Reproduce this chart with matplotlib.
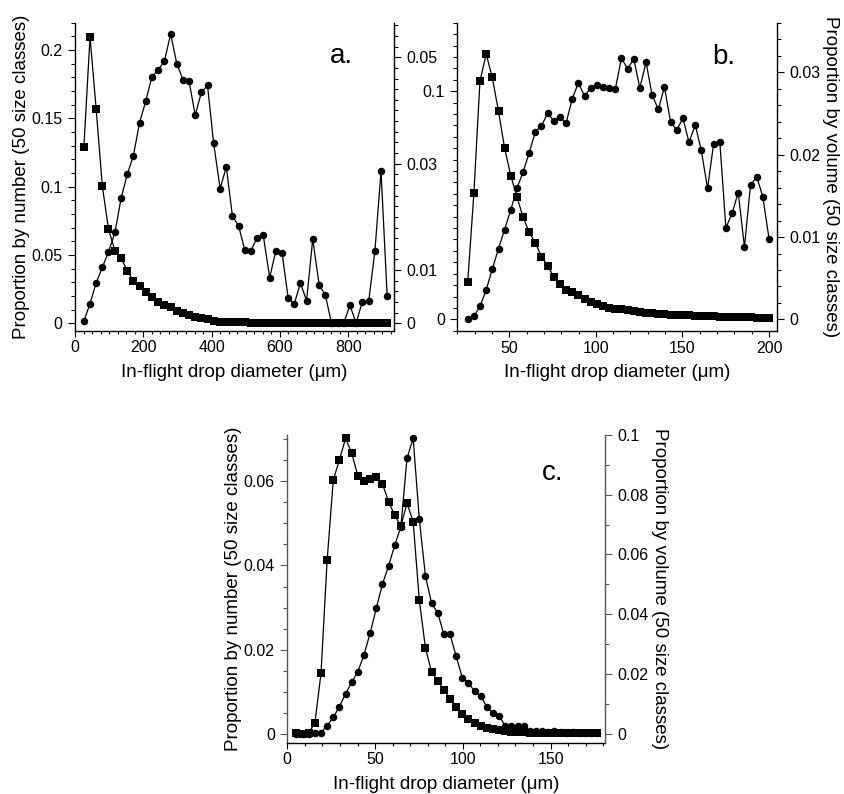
import matplotlib
matplotlib.use("Agg")
import matplotlib.pyplot as plt
from matplotlib.ticker import MultipleLocator, FixedLocator, FuncFormatter

plt.rcParams['font.family'] = ['Liberation Sans', 'DejaVu Sans']

# ---- panel a : drop diameter classes (um) ----
diam_a = [26, 44, 62, 80, 98, 117, 135, 153, 171, 189, 207, 225, 243, 262, 280,
          298, 316, 334, 352, 370, 388, 406, 425, 443, 461, 479, 497, 515, 533, 551,
          570, 588, 606, 624, 642, 660, 678, 696, 715, 733, 751, 769, 787, 805, 823,
          841, 860, 878, 896, 914]
number_a = [0.129, 0.2096, 0.1567, 0.1005, 0.069, 0.0531, 0.0476, 0.0385, 0.031, 0.0273,
            0.0227, 0.0195, 0.0158, 0.0134, 0.0117, 0.0092, 0.0073, 0.0061, 0.0044, 0.0037,
            0.0029, 0.0019, 0.0012, 0.0010, 0.0009, 0.0008, 0.0007, 0.0006, 0.0006, 0.0005,
            0.0005, 0.0004, 0.0004, 0.0003, 0.0003, 0.0003, 0.0003, 0.0002, 0.0002, 0.0002,
            0.0002, 0.0002, 0.0002, 0.0001, 0.0001, 0.0001, 0.0001, 0.0001, 0.0001, 0.0001]
volume_a = [0.0004, 0.0037, 0.0076, 0.0105, 0.0134, 0.0171, 0.0235, 0.0280, 0.0315, 0.0377,
            0.0417, 0.0463, 0.0476, 0.0493, 0.0544, 0.0488, 0.0458, 0.0455, 0.0391, 0.0434,
            0.0447, 0.0338, 0.0253, 0.0294, 0.0201, 0.0183, 0.0138, 0.0136, 0.0161, 0.0166,
            0.0086, 0.0136, 0.0133, 0.0048, 0.0036, 0.0076, 0.0042, 0.0158, 0.0072, 0.0053,
            0.0, 0.0, 0.0, 0.0034, 0.0, 0.0040, 0.0042, 0.0135, 0.0286, 0.0051]

# ---- panel b ----
diam_b = [26, 29.6, 33.1, 36.7, 40.2, 43.8, 47.3, 50.9, 54.4, 58, 61.5, 65.1, 68.6, 72.2,
          75.7, 79.3, 82.8, 86.4, 89.9, 93.5, 97, 100.6, 104.1, 107.7, 111.2, 114.8, 118.3,
          121.9, 125.4, 129, 132.5, 136.1, 139.6, 143.2, 146.7, 150.3, 153.8, 157.4, 160.9,
          164.5, 168, 171.6, 175.1, 178.7, 182.2, 185.8, 189.3, 192.9, 196.4, 200]
number_b = [0.0162, 0.0555, 0.1046, 0.1162, 0.1060, 0.0911, 0.0751, 0.0629, 0.0538, 0.0447,
            0.0382, 0.0335, 0.0275, 0.0235, 0.0187, 0.0155, 0.0129, 0.0118, 0.0107, 0.0089,
            0.0077, 0.0067, 0.0058, 0.0051, 0.0045, 0.0044, 0.0039, 0.0035, 0.0031, 0.0028,
            0.0026, 0.0024, 0.0022, 0.0021, 0.0019, 0.0018, 0.0017, 0.0016, 0.0015, 0.0014,
            0.0013, 0.0012, 0.0011, 0.0011, 0.0010, 0.0009, 0.0009, 0.0008, 0.0008, 0.0007]
volume_b = [0.0001, 0.0004, 0.0016, 0.0036, 0.0061, 0.0086, 0.0109, 0.0133, 0.0159, 0.0179,
            0.0202, 0.0228, 0.0235, 0.0250, 0.0241, 0.0245, 0.0238, 0.0268, 0.0287, 0.0271,
            0.0281, 0.0284, 0.0282, 0.0281, 0.0279, 0.0317, 0.0304, 0.0316, 0.0281, 0.0312,
            0.0272, 0.0255, 0.0282, 0.0239, 0.0230, 0.0244, 0.0215, 0.0236, 0.0205, 0.0159,
            0.0213, 0.0215, 0.0111, 0.0129, 0.0154, 0.0088, 0.0163, 0.0173, 0.0149, 0.0098]

# ---- panel c ----
diam_c = [5.2, 8.7, 12.2, 15.7, 19.2, 22.7, 26.2, 29.7, 33.2, 36.7, 40.2, 43.7, 47.2, 50.7,
          54.2, 57.7, 61.2, 64.7, 68.2, 71.7, 75.2, 78.7, 82.2, 85.7, 89.2, 92.7, 96.2, 99.7,
          103.2, 106.7, 110.2, 113.7, 117.2, 120.7, 124.2, 127.7, 131.2, 134.7, 138.2, 141.7,
          145.2, 148.7, 152.2, 155.7, 159.2, 162.7, 166.2, 169.7, 173.2, 176.7]
number_c = [0.0002, 0.0, 0.0003, 0.0025, 0.0144, 0.0413, 0.0603, 0.0651, 0.0702, 0.0667,
            0.0613, 0.0601, 0.0605, 0.0610, 0.0594, 0.0552, 0.0519, 0.0494, 0.0548, 0.0504,
            0.0318, 0.0204, 0.0147, 0.0125, 0.0105, 0.0082, 0.0063, 0.0047, 0.0035, 0.0025,
            0.0019, 0.0014, 0.0011, 0.0009, 0.0007, 0.0005, 0.0004, 0.0004, 0.0003, 0.0003,
            0.0003, 0.0002, 0.0002, 0.0002, 0.0002, 0.0001, 0.0001, 0.0001, 0.0001, 0.0001]
volume_c = [0.0, 0.0, 0.0, 0.0002, 0.0004, 0.0027, 0.0055, 0.0091, 0.0134, 0.0172,
            0.0208, 0.0264, 0.0337, 0.0420, 0.0501, 0.0562, 0.0631, 0.0693, 0.0922, 0.0989,
            0.0719, 0.0528, 0.0437, 0.0404, 0.0333, 0.0333, 0.0259, 0.0188, 0.0170, 0.0142,
            0.0127, 0.0089, 0.0069, 0.0060, 0.0025, 0.0027, 0.0025, 0.0027, 0.0010, 0.0008,
            0.0010, 0.0006, 0.0008, 0.0005, 0.0004, 0.0005, 0.0003, 0.0003, 0.0002, 0.0002]

xlabel = "In-flight drop diameter (\u03bcm)"
ylabel_num = "Proportion by number (50 size classes)"
ylabel_vol = "Proportion by volume (50 size classes)"

W, H = 844, 794
fig = plt.figure(figsize=(W / 100, H / 100), dpi=100)


def px_axes(left, top, right, bottom):
    return fig.add_axes([left / W, 1 - bottom / H, (right - left) / W, (bottom - top) / H])


fmt = FuncFormatter(lambda v, p: "%g" % round(v, 4))


def style(ax, side, spine_color='black'):
    for s in ['top', 'left', 'right', 'bottom']:
        ax.spines[s].set_visible(False)
    ax.spines[side].set_visible(True)
    ax.spines[side].set_color(spine_color)
    ax.spines[side].set_linewidth(1.0)
    ax.tick_params(axis='y', which='major', direction='out', length=5, width=0.8,
                   labelsize=11.5, color=spine_color, pad=4)
    ax.tick_params(axis='y', which='minor', direction='out', length=3, width=0.8,
                   color=spine_color)
    ax.yaxis.set_major_formatter(fmt)


def base(ax, xlim, xmajor, xminor):
    style(ax, 'left')
    ax.spines['bottom'].set_visible(True)
    ax.spines['bottom'].set_linewidth(1.0)
    ax.set_xlim(*xlim)
    ax.xaxis.set_major_locator(FixedLocator(xmajor))
    ax.xaxis.set_minor_locator(MultipleLocator(xminor))
    ax.tick_params(axis='x', which='major', direction='out', length=4, width=0.8,
                   labelsize=11.5, pad=3)
    ax.tick_params(axis='x', which='minor', direction='out', length=2.5, width=0.8)
    ax.set_xlabel(xlabel, fontsize=13.5, labelpad=6)


def draw(ax, ax2, x, num, vol):
    ax.plot(x, num, '-', color='black', lw=0.9, marker='s', ms=6.0, mew=0, clip_on=False, zorder=3)
    ax2.plot(x, vol, '-', color='black', lw=0.9, marker='o', ms=5.4, mew=0, clip_on=False, zorder=3)


# panel a
ax_a = px_axes(75, 22.7, 394, 330.7)
ax_a2 = ax_a.twinx()
base(ax_a, (0, 934), [0, 200, 400, 600, 800], 25)
style(ax_a2, 'right')
ax_a.set_ylim(-0.0054, 0.22)
ax_a.yaxis.set_major_locator(FixedLocator([0, 0.05, 0.1, 0.15, 0.2]))
ax_a.yaxis.set_minor_locator(MultipleLocator(0.01))
ax_a2.set_ylim(-0.0014, 0.0565)
ax_a2.yaxis.set_major_locator(FixedLocator([0, 0.01, 0.03, 0.05]))
ax_a2.yaxis.set_minor_locator(MultipleLocator(0.002))
ax_a.set_ylabel(ylabel_num, fontsize=13.5, labelpad=1)
draw(ax_a, ax_a2, diam_a, number_a, volume_a)
ax_a.text(0.799, 0.868, "a.", transform=ax_a.transAxes, fontsize=20, ha='left', va='baseline')

# panel b
ax_b = px_axes(457.3, 22.7, 777, 331)
ax_b2 = ax_b.twinx()
base(ax_b, (20, 204.6), [50, 100, 150, 200], 10)
style(ax_b2, 'right')
ax_b.set_ylim(-0.0051, 0.130)
ax_b.yaxis.set_major_locator(FixedLocator([0, 0.1]))
ax_b.yaxis.set_minor_locator(MultipleLocator(0.005))
ax_b2.set_ylim(-0.0014, 0.036)
ax_b2.yaxis.set_major_locator(FixedLocator([0, 0.01, 0.02, 0.03]))
ax_b2.yaxis.set_minor_locator(MultipleLocator(0.002))
ax_b2.set_ylabel(ylabel_vol, fontsize=13.5, rotation=270, labelpad=13)
draw(ax_b, ax_b2, diam_b, number_b, volume_b)
ax_b.text(0.796, 0.866, "b.", transform=ax_b.transAxes, fontsize=20, ha='left', va='baseline')

# panel c
ax_c = px_axes(287.3, 435, 605, 742.7)
ax_c2 = ax_c.twinx()
base(ax_c, (0, 181), [0, 50, 100, 150], 10)
style(ax_c, 'left', '#555555')
ax_c.spines['bottom'].set_visible(True)
style(ax_c2, 'right', '#555555')
ax_c.set_ylim(-0.0021, 0.071)
ax_c.yaxis.set_major_locator(FixedLocator([0, 0.02, 0.04, 0.06]))
ax_c.yaxis.set_minor_locator(MultipleLocator(0.005))
ax_c2.set_ylim(-0.003, 0.1)
ax_c2.yaxis.set_major_locator(FixedLocator([0, 0.02, 0.04, 0.06, 0.08, 0.1]))
ax_c2.yaxis.set_minor_locator(MultipleLocator(0.01))
ax_c.set_ylabel(ylabel_num, fontsize=13.5, labelpad=1)
ax_c2.set_ylabel(ylabel_vol, fontsize=13.5, rotation=270, labelpad=14)
draw(ax_c, ax_c2, diam_c, number_c, volume_c)
ax_c.text(0.801, 0.854, "c.", transform=ax_c.transAxes, fontsize=20, ha='left', va='baseline')

fig.savefig("out.png", dpi=100)
